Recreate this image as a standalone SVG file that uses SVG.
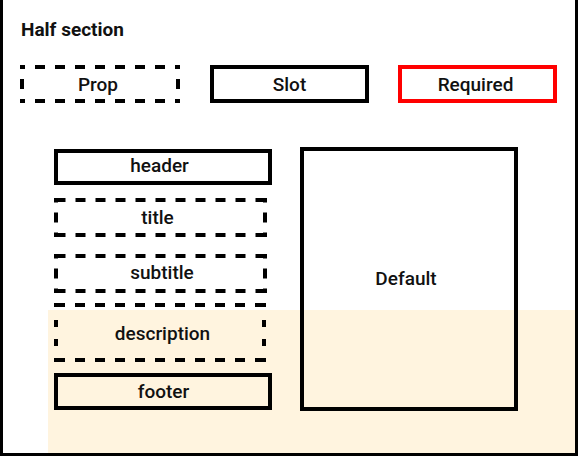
<svg xmlns="http://www.w3.org/2000/svg" width="578" height="457" viewBox="0 0 578 457">
<style>
.lbl{font-family:Roboto,"Liberation Sans",sans-serif;font-weight:500;font-size:19px;fill:#111;text-anchor:middle}
.ttl{font-family:Roboto,"Liberation Sans",sans-serif;font-weight:700;font-size:19px;fill:#111}
.solid{fill:none;stroke:#000;stroke-width:4}
.req{fill:none;stroke:#ff0000;stroke-width:4}
.dash{stroke:#000;stroke-width:4;stroke-dasharray:10 10}
</style>
<rect x="0" y="0" width="578" height="457" fill="#fff"/>
<rect x="48" y="310" width="528" height="145" fill="#fff4df"/>
<rect x="1.5" y="-10" width="575" height="464.5" fill="none" stroke="#000" stroke-width="3"/>
<text class="ttl" x="21" y="36">Half section</text>

<g id="prop">
<line class="dash" x1="20" y1="67" x2="180" y2="67" stroke-dashoffset="5"/>
<line class="dash" x1="20" y1="101" x2="180" y2="101" stroke-dashoffset="5"/>
<line class="dash" x1="22" y1="65" x2="22" y2="103" stroke-dashoffset="6"/>
<line class="dash" x1="178" y1="65" x2="178" y2="103" stroke-dashoffset="6"/>
<text class="lbl" x="98" y="91">Prop</text>
</g>
<g id="slot">
<rect class="solid" x="212" y="67" width="155" height="34"/>
<text class="lbl" x="289.5" y="91">Slot</text>
</g>
<g id="required">
<rect class="req" x="400" y="67" width="155" height="34"/>
<text class="lbl" x="475.5" y="91">Required</text>
</g>

<g id="header">
<rect class="solid" x="56" y="151" width="214" height="32"/>
<text class="lbl" x="159.5" y="172">header</text>
</g>
<g id="title">
<line class="dash" x1="54" y1="200" x2="267" y2="200" stroke-dashoffset="18.5"/>
<line class="dash" x1="54" y1="235" x2="267" y2="235" stroke-dashoffset="18.5"/>
<line class="dash" x1="56" y1="198" x2="56" y2="237" stroke-dashoffset="5.5"/>
<line class="dash" x1="265" y1="198" x2="265" y2="237" stroke-dashoffset="5.5"/>
<text class="lbl" x="157.5" y="223.5">title</text>
</g>
<g id="subtitle">
<line class="dash" x1="54" y1="256" x2="267" y2="256" stroke-dashoffset="18.5"/>
<line class="dash" x1="54" y1="291" x2="267" y2="291" stroke-dashoffset="18.5"/>
<line class="dash" x1="56" y1="254" x2="56" y2="293" stroke-dashoffset="5.5"/>
<line class="dash" x1="265" y1="254" x2="265" y2="293" stroke-dashoffset="5.5"/>
<text class="lbl" x="162" y="278.5">subtitle</text>
</g>
<g id="description">
<line class="dash" x1="54" y1="305" x2="266" y2="305" stroke-dashoffset="19"/>
<line class="dash" x1="54" y1="360" x2="266" y2="360" stroke-dashoffset="19"/>
<line class="dash" x1="56" y1="303" x2="56" y2="362" style="stroke-dasharray:4 13 7 12 7 12 4"/>
<line class="dash" x1="264" y1="303" x2="264" y2="362" style="stroke-dasharray:4 13 7 12 7 12 4"/>
<text class="lbl" x="162.5" y="339.5">description</text>
</g>
<g id="footer">
<rect class="solid" x="56" y="375" width="214" height="33"/>
<text class="lbl" x="163.5" y="397.5">footer</text>
</g>
<g id="default">
<rect class="solid" x="302" y="149" width="214" height="260"/>
<text class="lbl" x="406" y="285">Default</text>
</g>
<g id="connectors"/>
</svg>
